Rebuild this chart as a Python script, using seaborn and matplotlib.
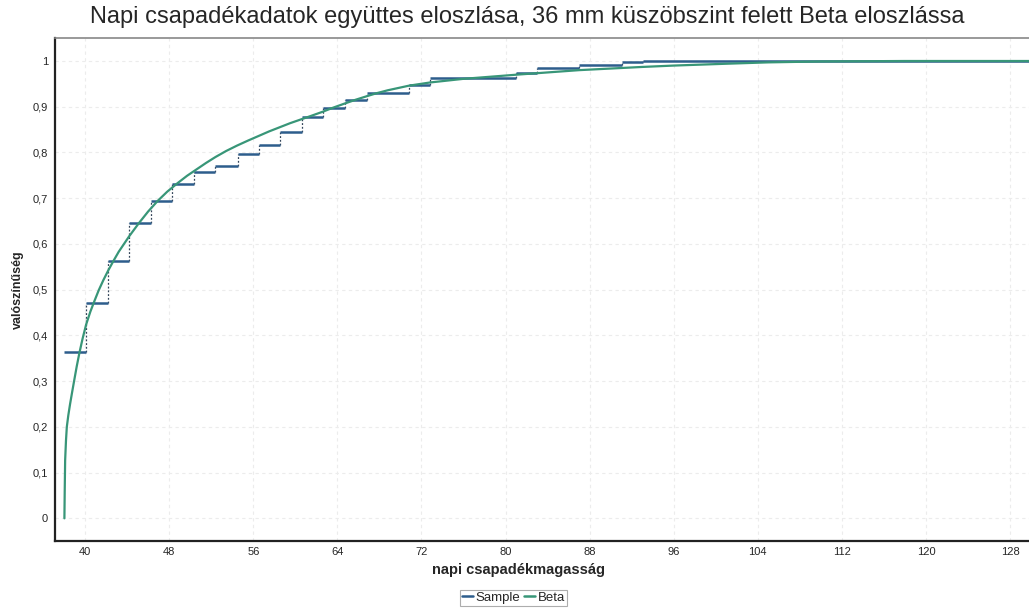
import numpy as np
import pandas as pd
import seaborn as sns
import matplotlib.pyplot as plt
from matplotlib.lines import Line2D
from matplotlib.ticker import MultipleLocator, FuncFormatter

sns.set_style("white")
plt.rcParams['font.family'] = ['Liberation Sans', 'DejaVu Sans']

# Sample (empirical CDF): step start points and levels
sample_x = [38.0, 40.1, 42.2, 44.2, 46.3, 48.3, 50.4, 52.4, 54.5, 56.5, 58.5,
            60.6, 62.6, 64.7, 66.8, 70.8, 72.8, 81.0, 83.0, 87.0, 91.1, 93.1]
sample_y = [0.363, 0.470, 0.563, 0.645, 0.694, 0.732, 0.758, 0.770, 0.796, 0.817, 0.845,
            0.877, 0.898, 0.915, 0.930, 0.947, 0.963, 0.973, 0.985, 0.992, 0.997, 1.0]
x_end = 130.0

# Fitted Beta CDF
beta_x = [38.03, 38.06, 38.1, 38.18, 38.26, 38.4, 38.57, 38.75, 38.95, 39.2, 39.46,
          39.75, 40.1, 40.5, 40.9, 41.3, 41.74, 42.2, 42.7, 43.2, 43.7, 44.2, 45.1,
          46.0, 46.9, 47.8, 48.8, 49.7, 50.6, 51.5, 52.4, 53.4, 54.45, 55.5, 56.5,
          57.5, 58.5, 59.5, 60.5, 61.5, 62.6, 63.6, 64.7, 65.7, 66.8, 67.8, 68.8,
          70.8, 72.8, 76.0, 81.0, 87.0, 93.0, 96.0, 101.0, 105.0, 110.0, 118.0, 130.0]
beta_y = [0.0, 0.06, 0.127, 0.17, 0.20, 0.225, 0.25, 0.274, 0.300, 0.332, 0.362,
          0.392, 0.424, 0.452, 0.476, 0.499, 0.521, 0.542, 0.563, 0.583, 0.600, 0.617, 0.645,
          0.671, 0.694, 0.714, 0.733, 0.749, 0.763, 0.777, 0.790, 0.803, 0.815, 0.826, 0.836,
          0.846, 0.855, 0.864, 0.872, 0.880, 0.889, 0.898, 0.907, 0.915, 0.923, 0.930, 0.936,
          0.946, 0.953, 0.961, 0.970, 0.980, 0.987, 0.990, 0.994, 0.997, 0.999, 1.0, 1.0]

c_sample = "#2d5d8c"
c_beta = "#389678"

df_beta = pd.DataFrame({'x': beta_x, 'y': beta_y})

fig = plt.figure(figsize=(10.29, 6.15), dpi=100)
ax = fig.add_axes([0.0535, 0.12, 0.9475, 0.818])

# sample steps
x_next = sample_x[1:] + [x_end]
ax.hlines(sample_y, sample_x, x_next, colors=c_sample, linewidth=1.8, zorder=3)
ax.vlines(sample_x[1:], sample_y[:-1], sample_y[1:], colors="#34465a",
          linewidth=0.9, linestyles=(0, (1.5, 1.5)), zorder=2)

sns.lineplot(data=df_beta, x='x', y='y', ax=ax, color=c_beta, linewidth=1.6,
             zorder=4, sort=False, estimator=None)

ax.set_xlim(37.14, 129.9)
ax.set_ylim(-0.05, 1.05)
ax.xaxis.set_major_locator(MultipleLocator(8))
ax.xaxis.set_minor_locator(MultipleLocator(2))
ax.yaxis.set_major_locator(MultipleLocator(0.1))
ax.yaxis.set_minor_locator(MultipleLocator(0.05))

def comma_fmt(v, pos):
    if abs(v - round(v)) < 1e-9:
        return str(int(round(v)))
    return ("%.1f" % v).replace('.', ',')

ax.yaxis.set_major_formatter(FuncFormatter(comma_fmt))
ax.tick_params(axis='both', which='major', direction='out', length=3, width=1,
               color='#555555', labelsize=8, pad=1.5)
ax.tick_params(axis='both', which='minor', direction='out', length=2.5, width=0.8,
               color='#777777')
ax.tick_params(axis='y', which='major', pad=2)

ax.grid(True, which='major', color='#ececec', linestyle=(0, (3, 3)), linewidth=0.8)
ax.set_axisbelow(True)

for s in ['left', 'bottom']:
    ax.spines[s].set_color('#222222')
    ax.spines[s].set_linewidth(1.6)
ax.spines['top'].set_color('#888888')
ax.spines['top'].set_linewidth(1.2)
ax.spines['right'].set_visible(False)

ax.set_xlabel("napi csapadékmagasság", fontsize=10.5, fontweight='bold')
ax.xaxis.set_label_coords((518 - 55) / 974.0, -0.043)
ax.set_ylabel("valószínűség", fontsize=9, fontweight='bold', labelpad=6)

fig.text(0.512, 0.972, "Napi csapadékadatok együttes eloszlása, 36 mm küszöbszint felett Beta eloszlássa",
         ha='center', va='center', fontsize=17)

handles = [Line2D([], [], color=c_sample, lw=1.8), Line2D([], [], color=c_beta, lw=1.8)]
leg = fig.legend(handles, ["Sample", "Beta"], loc='center', bbox_to_anchor=(0.499, 0.028),
                 ncol=2, fontsize=9.5, frameon=True, fancybox=False, handlelength=0.8,
                 handletextpad=0.2, columnspacing=0.3, borderpad=0.15, borderaxespad=0)
leg.get_frame().set_edgecolor('#999999')
leg.get_frame().set_linewidth(0.8)

fig.savefig("out.png", dpi=100)
